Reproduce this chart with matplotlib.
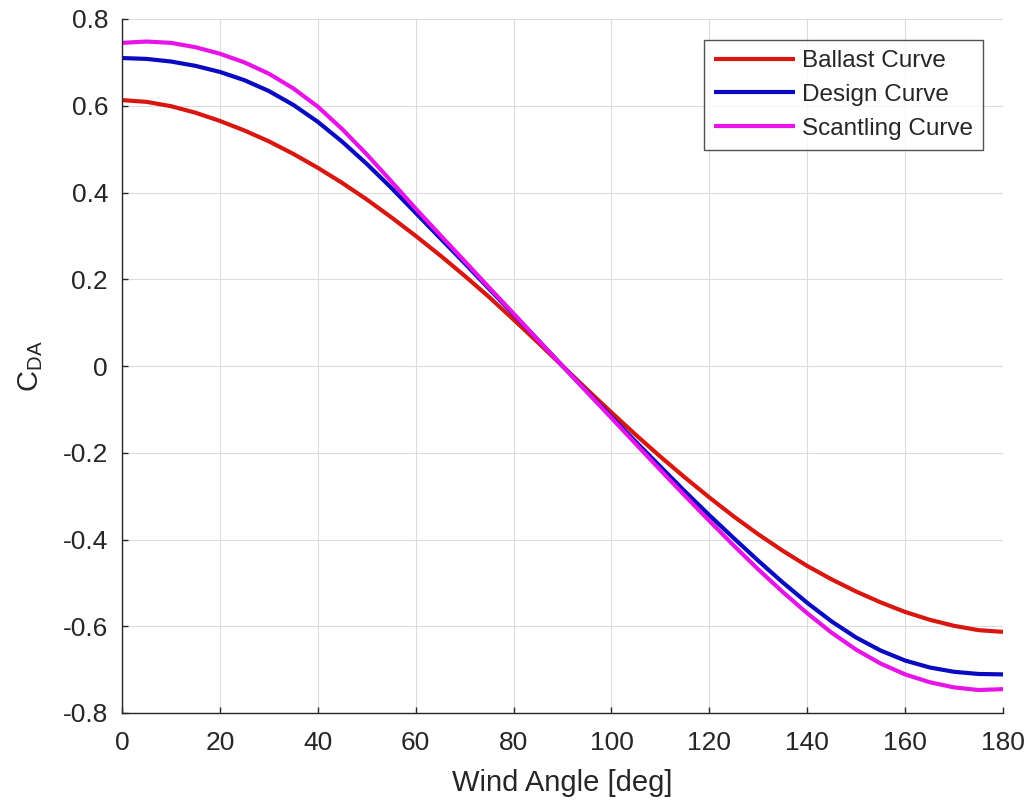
import matplotlib
matplotlib.use("Agg")
import matplotlib.pyplot as plt

plt.rcParams['font.family'] = ['Liberation Sans', 'DejaVu Sans']
plt.rcParams['mathtext.fontset'] = 'custom'
plt.rcParams['mathtext.rm'] = 'Liberation Sans'
plt.rcParams['mathtext.it'] = 'Liberation Sans'
plt.rcParams['axes.unicode_minus'] = False

# Wind angle samples [deg]
angle = [0, 5, 10, 15, 20, 25, 30, 35, 40, 45, 50, 55, 60, 65, 70, 75, 80, 85, 90,
         95, 100, 105, 110, 115, 120, 125, 130, 135, 140, 145, 150, 155, 160, 165,
         170, 175, 180]

# Wind drag coefficient C_DA for each loading condition
ballast = [0.613, 0.609, 0.599, 0.584, 0.565, 0.543, 0.518, 0.489, 0.457, 0.422,
           0.384, 0.343, 0.300, 0.255, 0.208, 0.159, 0.107, 0.054, 0.0,
           -0.054, -0.107, -0.159, -0.209, -0.257, -0.303, -0.347, -0.388, -0.426,
           -0.461, -0.492, -0.520, -0.545, -0.567, -0.585, -0.599, -0.609, -0.613]
design = [0.710, 0.708, 0.702, 0.692, 0.678, 0.659, 0.634, 0.602, 0.563, 0.517,
          0.466, 0.411, 0.353, 0.295, 0.237, 0.178, 0.119, 0.060, 0.0,
          -0.059, -0.117, -0.175, -0.232, -0.289, -0.344, -0.397, -0.449, -0.499,
          -0.546, -0.589, -0.626, -0.656, -0.679, -0.695, -0.705, -0.710, -0.711]
scantling = [0.745, 0.748, 0.745, 0.735, 0.720, 0.700, 0.674, 0.640, 0.598, 0.546,
             0.488, 0.426, 0.363, 0.302, 0.242, 0.181, 0.121, 0.060, 0.0,
             -0.060, -0.120, -0.180, -0.240, -0.299, -0.357, -0.414, -0.469, -0.521,
             -0.570, -0.615, -0.654, -0.686, -0.711, -0.729, -0.741, -0.747, -0.745]

series_labels = ['Ballast Curve', 'Design Curve', 'Scantling Curve']
series_colors = ['#d81810', '#0a0ac0', '#e614e6']

xticks = [0, 20, 40, 60, 80, 100, 120, 140, 160, 180]
yticks = [-0.8, -0.6, -0.4, -0.2, 0, 0.2, 0.4, 0.6, 0.8]
ytick_labels = ['-0.8', '-0.6', '-0.4', '-0.2', '0', '0.2', '0.4', '0.6', '0.8']

fig = plt.figure(figsize=(10.31, 8.02), dpi=100)
ax = fig.add_axes([122 / 1031, 89 / 802, 881 / 1031, 694 / 802])

for y, lab, col in zip([ballast, design, scantling], series_labels, series_colors):
    ax.plot(angle, y, color=col, lw=3.0, label=lab, solid_capstyle='butt',
            solid_joinstyle='round')

ax.set_xlim(0, 180)
ax.set_ylim(-0.8, 0.8)
ax.set_xticks(xticks)
ax.set_xticklabels([str(t) for t in xticks])
ax.set_yticks(yticks)
ax.set_yticklabels(ytick_labels)

ax.grid(True, color='#dcdcdc', lw=0.8)
ax.set_axisbelow(True)
for side in ('top', 'right'):
    ax.spines[side].set_visible(False)
for side in ('left', 'bottom'):
    ax.spines[side].set_color('#262626')
    ax.spines[side].set_linewidth(1.0)

ax.tick_params(direction='in', length=4, width=1.0, color='#262626',
               labelcolor='#262626', labelsize=19)
ax.tick_params(axis='x', pad=13)
ax.tick_params(axis='y', pad=10)

ax.set_xlabel('Wind Angle [deg]', fontsize=21, color='#262626', labelpad=10)
ax.set_ylabel(r'C$_{\mathrm{DA}}$', fontsize=21, color='#262626', labelpad=13)

leg = ax.legend(loc='upper right', bbox_to_anchor=((983 - 122) / 881, (713 - 40) / 694),
                borderaxespad=0, fontsize=17.5, frameon=True, fancybox=False,
                edgecolor='#262626', handlelength=3.3, handletextpad=0.3,
                labelspacing=0.48, borderpad=0.42)
leg.get_frame().set_linewidth(1.0)
for t in leg.get_texts():
    t.set_color('#262626')

fig.savefig('out.png', dpi=100, facecolor='white')
